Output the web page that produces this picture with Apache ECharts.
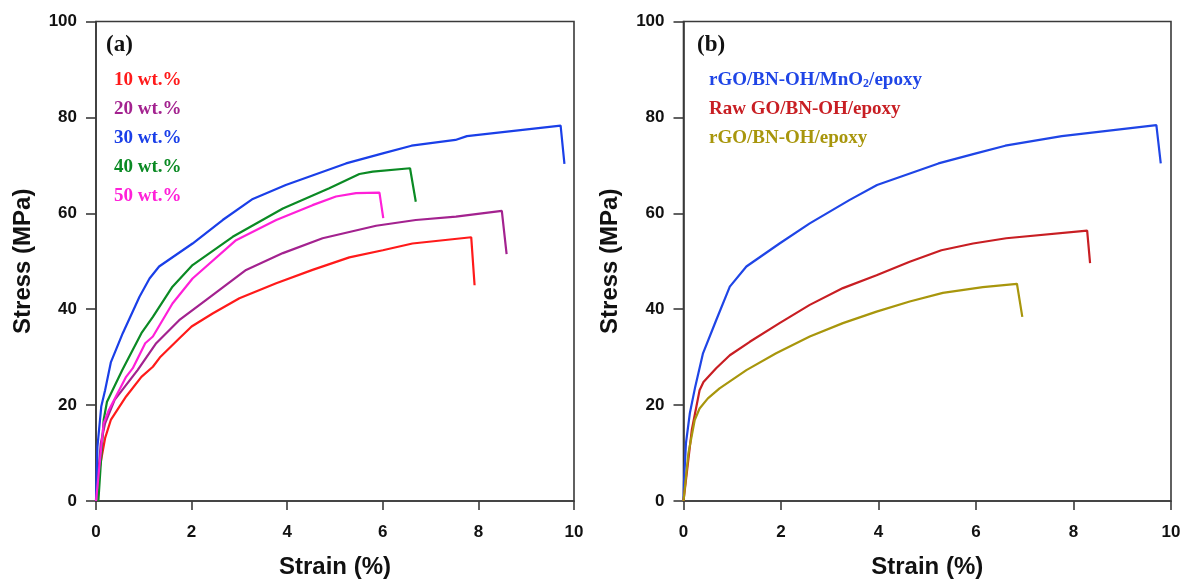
<!DOCTYPE html>
<html>
<head>
<meta charset="utf-8">
<script src="https://cdn.jsdelivr.net/npm/echarts@6/dist/echarts.min.js"></script>
<style>
html,body{margin:0;padding:0;background:#fff;}
#chart{width:1182px;height:579px;}
</style>
</head>
<body>
<div id="chart"></div>
<script>
// ---- Data: [strain (%), stress (MPa)] ----
const xTicks = [0, 2, 4, 6, 8, 10];
const yTicks = [0, 20, 40, 60, 80, 100];

const namesA = ['10 wt.%', '20 wt.%', '30 wt.%', '40 wt.%', '50 wt.%'];
const wt10 = [[0,0],[0.06,6],[0.19,13.1],[0.31,16.9],[0.63,21.8],[0.95,25.9],[1.19,28.0],[1.35,30.1],[1.74,33.9],[2.0,36.4],[2.44,39.1],[3.0,42.3],[3.77,45.4],[4.53,48.2],[5.3,50.8],[6.0,52.3],[6.62,53.7],[7.85,55.0],[7.92,45.0]];
const wt20 = [[0,0],[0.1,12],[0.19,16.2],[0.39,21.1],[0.87,27.3],[1.26,32.9],[1.74,37.7],[2.3,41.9],[3.14,48.2],[3.91,51.7],[4.74,54.8],[5.86,57.4],[6.69,58.6],[7.53,59.3],[8.49,60.5],[8.59,51.5]];
const wt30 = [[0,0],[0.01,4],[0.03,11.3],[0.11,19.7],[0.19,23.1],[0.31,28.9],[0.56,35.0],[0.91,42.6],[1.12,46.4],[1.32,48.9],[2.02,53.7],[2.65,58.6],[3.28,63.0],[3.97,65.9],[5.23,70.4],[6.0,72.5],[6.6,74.1],[7.52,75.3],[7.76,76.1],[9.72,78.3],[9.8,70.3]];
const wt40 = [[0.05,0],[0.16,16.9],[0.23,20.7],[0.55,27.3],[0.95,35.0],[1.19,38.4],[1.6,44.7],[2.02,49.2],[2.86,55.1],[3.91,61.0],[4.88,65.2],[5.51,68.2],[5.79,68.7],[6.57,69.4],[6.69,62.4]];
const wt50 = [[0,0],[0.16,16.2],[0.27,19.0],[0.63,25.9],[0.77,27.7],[1.03,32.9],[1.19,34.3],[1.6,41.2],[2.02,46.4],[2.93,54.4],[3.77,58.6],[4.53,61.7],[5.02,63.5],[5.44,64.2],[5.93,64.3],[6.01,59.0]];

const namesB = ['rGO/BN-OH/MnO2/epoxy', 'Raw GO/BN-OH/epoxy', 'rGO/BN-OH/epoxy'];
const rgoMnO2 = [[0,0],[0.01,4],[0.05,12],[0.13,18.3],[0.24,23.8],[0.4,30.8],[0.67,37.7],[0.95,44.7],[1.29,48.9],[1.97,53.7],[2.59,57.9],[3.41,62.8],[3.97,65.9],[5.23,70.4],[6.0,72.5],[6.6,74.1],[7.76,76.1],[9.7,78.4],[9.79,70.4]];
const rawGO = [[0,0],[0.17,14.8],[0.33,23.1],[0.41,24.8],[0.67,27.7],[0.95,30.4],[1.36,33.2],[1.97,37.1],[2.59,40.9],[3.27,44.4],[3.96,47.1],[4.64,49.9],[5.29,52.3],[5.94,53.7],[6.62,54.8],[8.28,56.4],[8.34,49.6]];
const rgo = [[0,0],[0.1,9.9],[0.23,16.9],[0.33,19.3],[0.5,21.4],[0.74,23.5],[1.29,27.3],[1.9,30.8],[2.59,34.3],[3.27,37.1],[3.96,39.5],[4.64,41.6],[5.32,43.4],[6.14,44.6],[6.84,45.3],[6.95,38.4]];

const colorsA = ['#ff1a1a', '#a3228f', '#1a3fe8', '#0b8a24', '#ff20d8'];
const colorsB = ['#1f45e6', '#c81e23', '#a8960c'];

const sans = 'Liberation Sans, Arial, sans-serif';
const serif = 'Liberation Serif, Times New Roman, serif';
const axisColor = '#3a3a3a';

function xAxis(gi) {
  return {
    type: 'value', gridIndex: gi, min: xTicks[0], max: xTicks[xTicks.length - 1], interval: 2,
    name: 'Strain (%)', nameLocation: 'middle', nameGap: 54,
    nameTextStyle: {fontFamily: sans, fontWeight: 'bold', fontSize: 24, color: '#111'},
    axisLine: {show: true, lineStyle: {color: axisColor, width: 1.6}},
    axisTick: {show: true, inside: false, length: 9, lineStyle: {color: axisColor, width: 1.6}},
    axisLabel: {fontFamily: sans, fontWeight: 'bold', fontSize: 17, color: '#111', margin: 23},
    splitLine: {show: false}
  };
}
function yAxis(gi) {
  return {
    type: 'value', gridIndex: gi, min: yTicks[0], max: yTicks[yTicks.length - 1], interval: 20,
    name: 'Stress (MPa)', nameLocation: 'middle', nameGap: 61,
    nameTextStyle: {fontFamily: sans, fontWeight: 'bold', fontSize: 24, color: '#111'},
    axisLine: {show: true, lineStyle: {color: axisColor, width: 1.6}},
    axisTick: {show: true, inside: false, length: 10, lineStyle: {color: axisColor, width: 1.6}},
    axisLabel: {fontFamily: sans, fontWeight: 'bold', fontSize: 17, color: '#111', margin: 19},
    splitLine: {show: false}
  };
}
function line(name, data, color, gi) {
  return {
    name: name, type: 'line', xAxisIndex: gi, yAxisIndex: gi, data: data,
    showSymbol: false, symbol: 'none', smooth: false, animation: false,
    lineStyle: {color: color, width: 2.2}, itemStyle: {color: color}
  };
}

const seriesA = [wt10, wt20, wt30, wt40, wt50];
const seriesB = [rgoMnO2, rawGO, rgo];

const option = {
  backgroundColor: '#fff',
  animation: false,
  title: [
    {text: '(a)', left: 101, top: 29, padding: 5,
     textStyle: {fontFamily: serif, fontWeight: 'bold', fontSize: 23, color: '#111'}},
    {text: '(b)', left: 692, top: 29, padding: 5,
     textStyle: {fontFamily: serif, fontWeight: 'bold', fontSize: 23, color: '#111'}}
  ],
  legend: [
    {
      orient: 'vertical', left: 109, top: 70, padding: 0, itemGap: 9,
      itemWidth: 0, itemHeight: 10, icon: 'none', selectedMode: false,
      textStyle: {fontFamily: serif, fontWeight: 'bold', fontSize: 19, lineHeight: 20},
      data: namesA.map((n, i) => ({name: n, icon: 'none', textStyle: {color: colorsA[i]}}))
    },
    {
      orient: 'vertical', left: 704, top: 70, padding: 0, itemGap: 9,
      itemWidth: 0, itemHeight: 10, icon: 'none', selectedMode: false,
      formatter: function (n) {
        if (n === namesB[0]) return '{m|rGO/BN-OH/MnO}{s|2}{m|/epoxy}';
        return n;
      },
      textStyle: {
        fontFamily: serif, fontWeight: 'bold', fontSize: 19, lineHeight: 20,
        rich: {
          m: {fontFamily: serif, fontWeight: 'bold', fontSize: 19, lineHeight: 20, color: colorsB[0]},
          s: {fontFamily: serif, fontWeight: 'bold', fontSize: 12, lineHeight: 10, verticalAlign: 'bottom', color: colorsB[0]}
        }
      },
      data: namesB.map((n, i) => ({name: n, icon: 'none', textStyle: {color: colorsB[i]}}))
    }
  ],
  grid: [
    {left: 96, top: 21.5, width: 478, height: 479.5, outerBoundsMode: 'none', containLabel: false, show: true, borderColor: axisColor, borderWidth: 1.6, backgroundColor: 'transparent'},
    {left: 683.5, top: 21.5, width: 487.5, height: 479.5, outerBoundsMode: 'none', containLabel: false, show: true, borderColor: axisColor, borderWidth: 1.6, backgroundColor: 'transparent'}
  ],
  xAxis: [xAxis(0), xAxis(1)],
  yAxis: [yAxis(0), yAxis(1)],
  series: seriesA.map((d, i) => line(namesA[i], d, colorsA[i], 0))
    .concat(seriesB.map((d, i) => line(namesB[i], d, colorsB[i], 1)))
};

const chart = echarts.init(document.getElementById('chart'), null, {renderer: 'canvas'});
chart.setOption(option);
</script>
</body>
</html>
